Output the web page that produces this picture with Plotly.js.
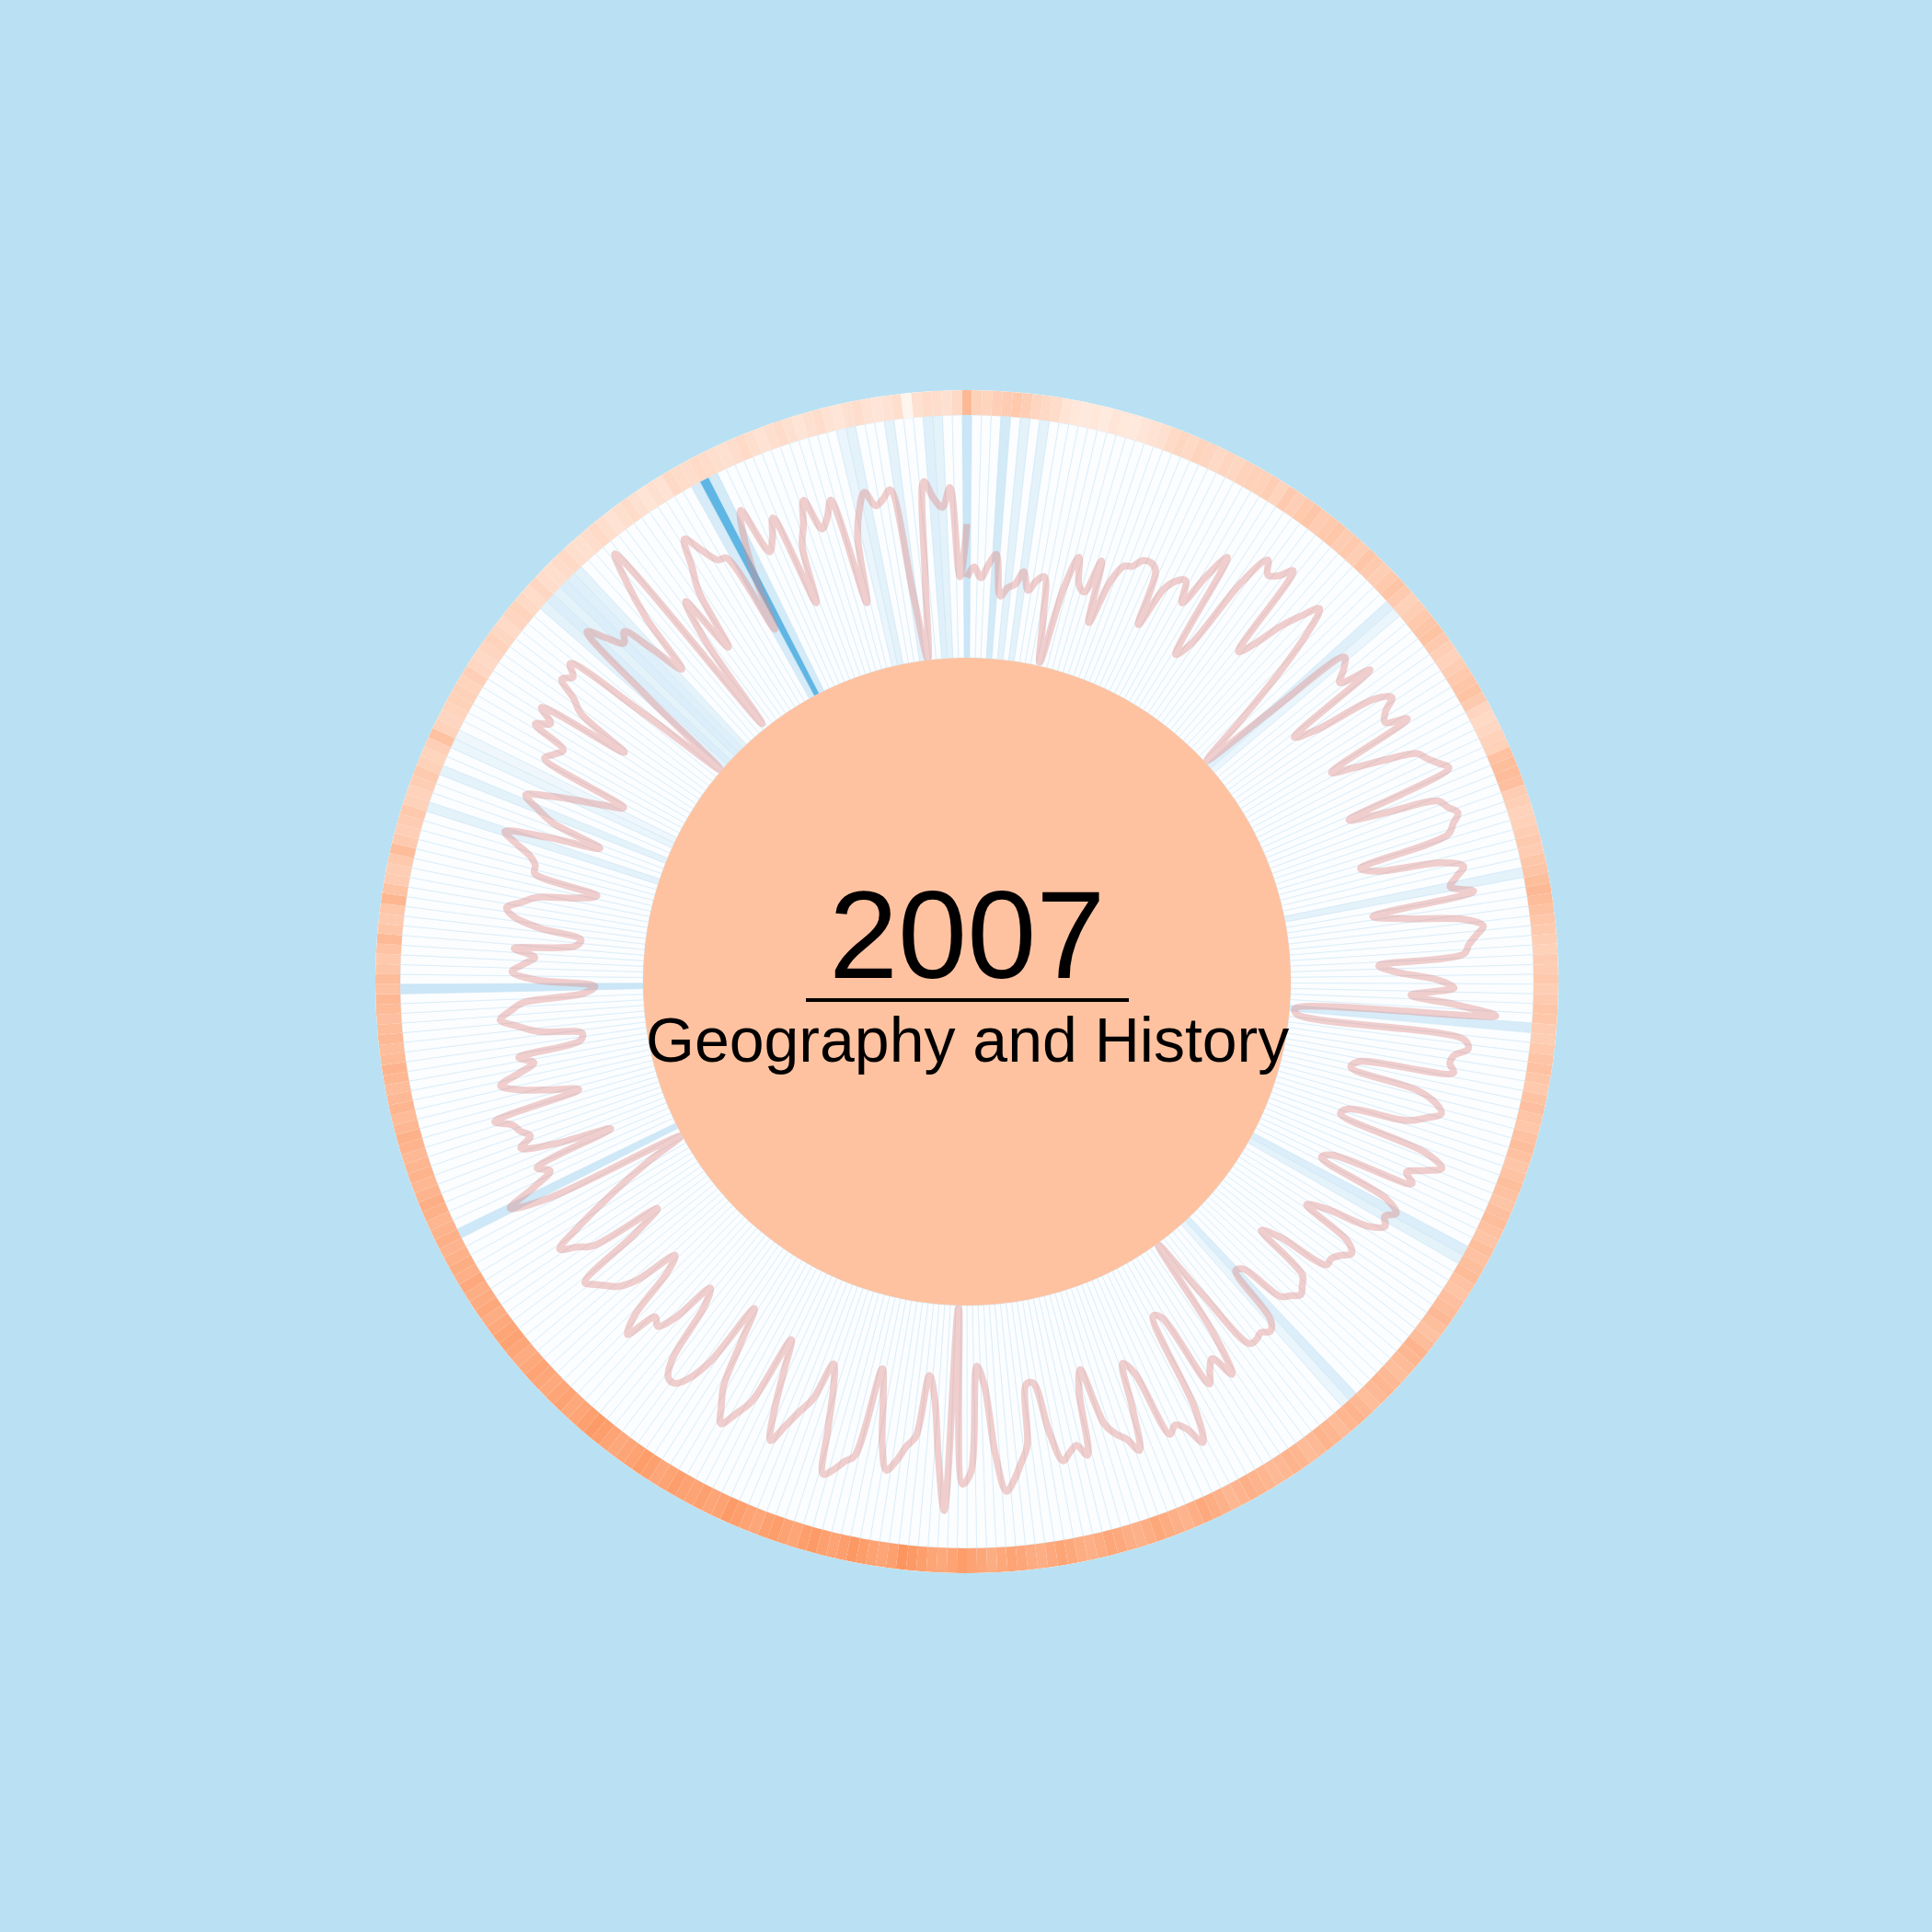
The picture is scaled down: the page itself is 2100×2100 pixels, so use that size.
<!DOCTYPE html>
<html>
<head>
<meta charset="utf-8">
<script src="https://cdn.plot.ly/plotly-3.0.1.min.js"></script>
<style>html,body{margin:0;padding:0;background:#b9e1f3;}</style>
</head>
<body>
<div id="chart" style="width:2100px;height:2100px;"></div>
<script>
// Daily page views index, 1 Jan 2007 .. 1 Jan 2008 (366 points)
const views = [
30,34,30,35,39,23.6,27,28.5,33.6,27,31,33,18,1.4,30,43,33,31,44,20.7,38,45,46,49.5,50,48,27,43,48,49.7,
41.7,55,65,24,30,60,72.5,68,70,75,38.7,45,56,64,70.8,60,42,20,1,30,65,62,57.5,69.4,31.6,40,64,70,65,62.8,
70.6,36,45,56.6,67.5,70,73,76,34,48,67.6,70,73,70,67,32,38,62,69.5,66,63,71.3,32.6,45,66,73,70,67,65,33,
40,54.5,61,45,62,77,2,3,66,68,63,62,64,28,26,52,60,63,58,51.5,29,27,62,69.7,64,58,61.6,30,26.8,55.5,61.3,
58,60,55,38,30.8,51,55,52,50,50,30,23,45.6,48,50,47.5,45,28,26.5,48.9,52,50,51,50.6,25,0.5,40,56,47,50,
54.5,24,22,60,72.4,65,62,64.4,38,33,50,65.6,60,57,52,30,38,61.6,57,59,61.6,50,31,31,54,60,66,70,56,30,
22.7,62,66.7,1,76.8,56.7,35,26.8,50,54,60,64,55,38,27,61,64,68,70.7,54,38,30.2,45,51,58,65.5,55,40,28,55,
62,68,62,55,38,24.7,50,60,64.5,64.4,58,35,28.3,45,52,50,61.9,55,35,28.5,45,52,55,58,60.7,35,22.4,50,55,61,
51,39,27,14,0.5,55,69.5,58,50,54,23,45,56.9,52,55,57,63,29.5,40,51.3,57.5,50,43.6,48.8,25,24,40,47.6,54,
50,45,22,18,40.3,49,45,40.7,48.6,26,24,40,50,53.2,48,42.7,28,20.9,45.5,46,48.7,55,60.5,45,24.9,44.6,52,58,
50,40,30,22.8,57.5,55,52.8,66.8,62,68.1,33,54.5,60,67.9,65,69,35,0.4,37.5,72,65,59,62,50,37,60,75,86,2,
40,55.7,32.5,55.7,65,75.2,68,62,61,29,50,65,74.3,55.7,60,66.8,31.3,52.9,60,68.9,56.6,60,66,25.4,50,60,
65.8,60,62,65,25,0.4,30,66.5,60,56.4,63.7,30.3,50
];
// Daily mean temperature (°F), 2007
const tempF = [
60,45,43,46,48,50,47,42,40,38,33,31,30,31,29,32,31,30,32,34,35,39,41,40,43,42,40,42,41,44,45,
45,47,43,49,46,50,52,48,50,51,48,50,47,52,49,47,50,53,49,45,47,50,52,54,49,46,44,47,
50,52,54,49,42,40,41,44,45,55,57,58,56,48,46,44,45,47,49,48,51,53,57,60,58,55,51,49,47,45,48,
48,50,47,49,52,51,48,47,50,53,55,52,50,54,56,53,51,55,57,55,52,54,57,55,53,56,58,55,53,57,
55,57,59,55,53,56,58,60,57,55,58,63,62,59,57,60,62,60,58,61,64,62,59,62,64,60,59,62,64,61,60,
62,64,66,63,61,65,68,70,67,64,66,69,71,68,65,67,70,72,69,66,68,71,73,70,67,69,72,74,71,68,
72,75,78,74,71,73,77,80,83,76,73,75,78,81,77,74,76,79,77,73,75,78,76,72,74,77,79,75,73,76,74,
75,77,74,72,76,78,75,73,71,74,77,79,76,73,71,75,73,70,72,74,71,69,72,75,73,70,68,71,69,67,70,
66,68,65,63,66,64,62,65,67,63,61,64,62,60,63,65,61,59,62,60,58,61,63,59,57,60,58,56,59,61,
55,58,52,50,54,60,52,49,51,62,54,48,47,50,58,49,46,48,50,45,44,47,49,45,43,46,55,44,42,43,45,
45,43,46,41,40,42,44,41,39,42,43,40,38,41,37,36,38,40,36,35,37,39,36,34,36,38,35,33,35,34,
40,38,37,39,38,36,35,37,39,36,34,36,38,35,33,35,37,34,32,35,37,34,32,34,36,22,35,38,37,35,40
];
// Daily precipitation (inches), 2007
const precipIn = [
0.5,0,0,0,0.4,0,0.2,0,0.2,0,0,0,0,0,0,0,0,0,0,0,0,0,0,0,0,0,0,0,0,0,0,
0,0,0,0,0,0,0,0,0,0,0,0,0,0,0,0,0,0,0.25,0.15,0,0,0,0,0,0,0,0,
0,0,0,0,0,0,0,0,0,0,0,0,0,0,0,0,0,0,0,0,0,0.2,0,0,0,0,0,0,0,0,0,
0,0,0,0,0,0,0.35,0,0,0,0,0,0,0,0,0,0,0,0,0,0,0,0,0,0,0,0,0,0,0,
0.3,0.2,0,0,0,0,0,0,0,0,0,0,0,0,0,0,0,0,0,0.3,0.15,0,0,0,0,0,0,0,0,0,0,
0,0,0,0,0,0,0,0,0,0,0,0,0,0,0,0,0,0,0,0,0,0,0,0,0,0,0,0,0,0,
0,0,0,0,0,0,0,0,0,0,0,0,0,0,0,0,0,0,0,0,0,0,0,0,0,0,0,0,0,0,0,
0,0,0,0,0,0,0,0,0,0,0,0,0,0,0,0,0,0,0,0,0,0,0,0,0,0,0,0,0,0,0,
0,0,0,0,0.45,0,0,0,0,0,0,0,0,0,0,0,0,0,0,0,0,0,0,0,0,0,0,0,0,0,
0.5,0,0,0,0,0,0,0,0,0,0,0,0,0,0,0,0,0,0,0.2,0,0,0,0.2,0,0,0.15,0.1,0,0,0,
0,0,0,0,0,0,0,0,0,0,0,0,0.2,0.3,0.2,0.3,0.25,0.2,0,0,0,0,0,0,0,0,0,0,0,0,
0,0,0.35,1.8,0.4,0,0,0,0,0,0,0,0,0,0,0,0,0,0.15,0.2,0,0,0,0.2,0,0,0,0.25,0.2,0,0
];

const dayAngle = 360 / 365;
const thetaLine = views.map((v, i) => i * dayAngle);
const thetaDay = tempF.map((v, i) => i * dayAngle);

const RING_START = 90.7, RING_END = 100;

const traces = [
  {
    type: 'barpolar',
    r: precipIn.map(() => RING_START),
    theta: thetaDay,
    width: precipIn.map(() => dayAngle),
    marker: {
      color: precipIn,
      colorscale: [[0, '#fbfdff'], [0.12, '#e2f1fa'], [1, '#5fb6e4']],
      cmin: 0, cmax: 1.8,
      line: {color: 'rgba(200,228,245,0.8)', width: 0.6}
    },
    hoverinfo: 'skip'
  },
  {
    type: 'barpolar',
    r: tempF.map(() => RING_END - RING_START),
    base: tempF.map(() => RING_START),
    theta: thetaDay,
    width: tempF.map(() => dayAngle),
    marker: {
      color: tempF,
      colorscale: [[0, '#fff8f4'], [1, '#fc8a4e']],
      cmin: 20, cmax: 90,
      line: {width: 0}
    },
    hoverinfo: 'skip'
  },
  {
    type: 'scatterpolar',
    mode: 'lines',
    r: views,
    theta: thetaLine,
    line: {color: 'rgba(222,135,130,0.40)', width: 7.5, shape: 'spline', smoothing: 1},
    hoverinfo: 'skip'
  }
];

const cx = 1051, cy = 1067, R = 643, H = 352, W = 2100;
const layout = {
  width: W, height: W,
  paper_bgcolor: '#b9e1f3',
  plot_bgcolor: '#b9e1f3',
  margin: {l: 0, r: 0, t: 0, b: 0},
  showlegend: false,
  polar: {
    domain: {x: [(cx - R) / W, (cx + R) / W], y: [(W - cy - R) / W, (W - cy + R) / W]},
    hole: H / R,
    bgcolor: '#ffffff',
    barmode: 'overlay',
    bargap: 0,
    radialaxis: {range: [0, RING_END], visible: false, showgrid: false},
    angularaxis: {visible: false, showgrid: false, direction: 'clockwise', rotation: 90}
  },
  shapes: [
    {type: 'circle', xref: 'paper', yref: 'paper',
     x0: (cx - H) / W, x1: (cx + H) / W, y0: (W - cy - H) / W, y1: (W - cy + H) / W,
     fillcolor: '#ffc2a0', line: {width: 0}, layer: 'above'},
    {type: 'line', xref: 'paper', yref: 'paper',
     x0: 876 / W, x1: 1227 / W, y0: 1 - 1087 / W, y1: 1 - 1087 / W,
     line: {color: '#000000', width: 4}, layer: 'above'}
  ],
  annotations: [
    {text: '2007', xref: 'paper', yref: 'paper', x: cx / W, y: 1 - 1017 / W,
     xanchor: 'center', yanchor: 'middle', showarrow: false,
     font: {family: 'Liberation Sans, Arial, sans-serif', size: 135, color: '#000000'}},
    {text: 'Geography and History', xref: 'paper', yref: 'paper', x: cx / W, y: 1 - 1130 / W,
     xanchor: 'center', yanchor: 'middle', showarrow: false,
     font: {family: 'Liberation Sans, Arial, sans-serif', size: 68, color: '#000000'}}
  ]
};

Plotly.newPlot('chart', traces, layout, {displayModeBar: false, staticPlot: true});
</script>
</body>
</html>
